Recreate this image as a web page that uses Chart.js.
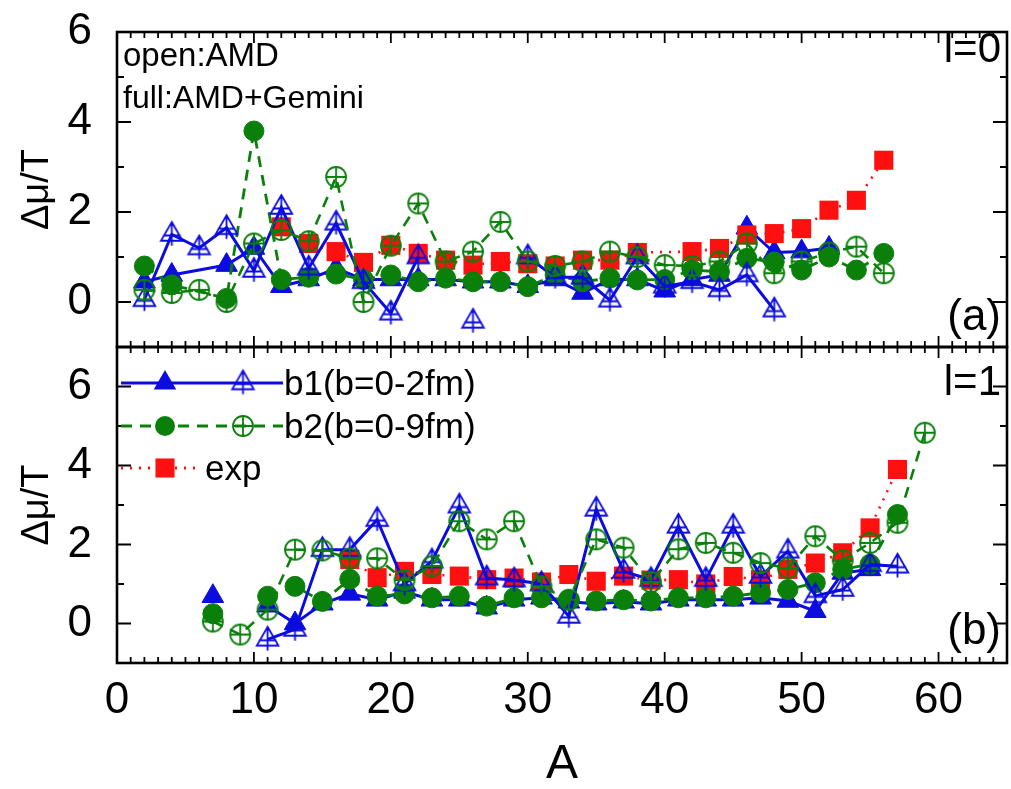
<!DOCTYPE html>
<html>
<head>
<meta charset="utf-8">
<script src="https://cdn.jsdelivr.net/npm/chart.js@4.4.1/dist/chart.umd.min.js"></script>
<style>
  html, body { margin: 0; padding: 0; background: #fff; }
  #wrap { position: relative; width: 1011px; height: 789px; }
  #top { position: absolute; left: 0; top: 0; }
  #bot { position: absolute; left: 0; top: 345px; }
</style>
</head>
<body>
<div id="wrap">
  <canvas id="top" width="1011" height="350"></canvas>
  <canvas id="bot" width="1011" height="444"></canvas>
</div>
<script>
// ---- data, panel (a) l=0 : even A ----
const aTop = [2,4,6,8,10,12,14,16,18,20,22,24,26,28,30,32,34,36,38,40,42,44,46,48,50,52,54,56]
const b1FullTop = [0.45,0.6,null,0.82,1.2,0.35,0.5,0.75,0.5,0.5,0.5,0.5,0.45,0.45,0.35,0.5,0.2,0.5,0.5,0.25,0.5,0.6,1.65,1.1,1.12,1.2,null,null]
const b1OpenTop = [0.05,1.5,1.2,1.65,0.7,2.1,0.75,1.75,0.45,-0.25,1.0,null,-0.43,null,1.0,0.55,0.55,0.04,1.0,0.35,0.45,0.27,0.6,-0.18,null,null,null,null]
const b2FullTop = [0.8,0.38,null,0.08,3.8,0.5,0.55,0.62,0.5,0.6,0.45,0.53,0.45,0.45,0.34,0.6,0.45,0.53,0.49,0.5,0.71,0.67,0.97,0.89,0.71,1.0,0.71,1.08]
const b2OpenTop = [0.27,0.2,0.27,0.0,1.3,1.6,1.35,2.78,0.0,1.25,2.19,0.9,1.12,1.78,0.9,0.8,0.9,1.12,1.0,0.82,0.8,0.9,1.3,0.64,0.9,1.1,1.23,0.64]
const expTop = [null,null,null,null,null,1.67,1.3,1.12,0.88,1.26,1.08,0.93,0.82,0.9,0.85,0.8,0.93,0.93,1.1,null,1.12,1.19,1.49,1.52,1.63,2.04,2.26,3.15]

// ---- data, panel (b) l=1 : odd A ----
const aBot = [7,9,11,13,15,17,19,21,23,25,27,29,31,33,35,37,39,41,43,45,47,49,51,53,55,57,59]
const b1FullBot = [0.69,null,0.45,0.0,0.5,0.75,0.6,0.8,0.6,0.6,0.4,0.6,0.65,0.55,0.5,0.55,0.5,0.6,0.6,0.6,0.65,0.57,0.31,1.28,1.37,null,null]
const b1OpenBot = [null,null,-0.4,-0.15,1.87,1.87,2.63,1.0,1.58,2.97,1.15,1.1,1.0,0.18,2.89,1.32,1.11,2.46,1.11,2.46,1.19,1.83,0.7,0.86,1.49,1.45,null]
const b2FullBot = [0.25,null,0.69,0.94,0.56,1.12,0.69,0.75,0.65,0.69,0.44,0.65,0.65,0.6,0.57,0.6,0.57,0.65,0.65,0.69,0.78,0.86,1.03,1.37,1.5,2.76,null]
const b2OpenBot = [0.05,-0.28,0.35,1.87,1.85,1.65,1.65,1.1,1.45,2.59,2.13,2.59,0.94,0.6,2.13,1.92,1.05,1.88,2.04,1.79,1.53,1.4,2.21,1.6,2.04,2.55,4.83]
const expBot = [null,null,null,null,null,1.62,1.16,1.32,1.24,1.2,1.11,1.15,1.05,1.24,1.07,1.2,1.1,1.11,1.0,1.19,1.11,1.37,1.53,1.79,2.42,3.9,null]

const xTicks = [0,10,20,30,40,50,60]
const yTicks = [0,2,4,6]

const FONT = "'Liberation Sans', Arial, Helvetica, sans-serif"
const BLUE = '#0c0ce0'
const GREEN = '#0a800a'
const RED = '#ff1010'

// open markers with a cross inside
const makeOpenTri = (color, r) => {
  const s = Math.ceil(2 * r + 10)
  const c = document.createElement('canvas')
  c.width = s; c.height = s
  const g = c.getContext('2d')
  const cx = s / 2, cy = s / 2
  g.strokeStyle = color
  g.lineWidth = 1.8
  g.beginPath()
  g.moveTo(cx, cy - r)
  g.lineTo(cx + r * 0.866, cy + r * 0.5)
  g.lineTo(cx - r * 0.866, cy + r * 0.5)
  g.closePath()
  g.moveTo(cx, cy - r); g.lineTo(cx, cy + r * 0.5 + 5)
  g.moveTo(cx - r * 0.7, cy + 1); g.lineTo(cx + r * 0.7, cy + 1)
  g.stroke()
  return c
}
const makeCircPlus = (color, r) => {
  const s = Math.ceil(2 * r + 6)
  const c = document.createElement('canvas')
  c.width = s; c.height = s
  const g = c.getContext('2d')
  const cx = s / 2, cy = s / 2
  g.strokeStyle = color
  g.lineWidth = 1.8
  g.beginPath()
  g.arc(cx, cy, r, 0, Math.PI * 2)
  g.moveTo(cx - r, cy); g.lineTo(cx + r, cy)
  g.moveTo(cx, cy - r); g.lineTo(cx, cy + r)
  g.stroke()
  return c
}
const triOpen = makeOpenTri(BLUE, 12.5)
const circPlus = makeCircPlus(GREEN, 10)

const pts = (xs, ys) => xs.map((x, i) => ({ x: x, y: ys[i] }))

const makeSets = (xs, b1f, b1o, b2f, b2o, ex, gaps) => [
  { data: pts(xs, b1f), borderColor: BLUE, backgroundColor: BLUE, borderWidth: 3,
    pointStyle: 'triangle', pointRadius: 12.5, pointBorderWidth: 1, spanGaps: gaps[0], order: 5 },
  { data: pts(xs, ex), borderColor: RED, backgroundColor: RED, borderWidth: 2.6, borderDash: [2, 7],
    pointStyle: 'rect', pointRadius: 13.5, pointBorderWidth: 0, spanGaps: true, order: 4 },
  { data: pts(xs, b2f), borderColor: GREEN, backgroundColor: GREEN, borderWidth: 2.8, borderDash: [11, 8],
    pointStyle: 'circle', pointRadius: 10, pointBorderWidth: 1, spanGaps: gaps[1], order: 3 },
  { data: pts(xs, b1o), borderColor: BLUE, backgroundColor: BLUE, borderWidth: 3,
    pointStyle: triOpen, pointRadius: 12, spanGaps: false, order: 2 },
  { data: pts(xs, b2o), borderColor: GREEN, backgroundColor: GREEN, borderWidth: 2.6, borderDash: [11, 8],
    pointStyle: circPlus, pointRadius: 10, spanGaps: true, order: 1 }
]

// frame and inward ticks on all four sides
const frameTicks = {
  id: 'frameTicks',
  afterDraw(chart) {
    const { ctx, chartArea: { left, right, top, bottom }, scales: { x, y } } = chart
    ctx.save()
    ctx.strokeStyle = '#000'
    ctx.lineWidth = 1.8
    ctx.beginPath()
    for (let v = Math.ceil(x.min); v <= x.max; v++) {
      const px = x.getPixelForValue(v)
      const len = v % 10 === 0 ? 11 : 6
      ctx.moveTo(px, bottom); ctx.lineTo(px, bottom - len)
      ctx.moveTo(px, top); ctx.lineTo(px, top + len)
    }
    for (let v = Math.ceil(y.min); v <= y.max; v++) {
      const py = y.getPixelForValue(v)
      const len = v % 2 === 0 ? 14 : 7
      ctx.moveTo(left, py); ctx.lineTo(left + len, py)
      ctx.moveTo(right, py); ctx.lineTo(right - len, py)
    }
    ctx.stroke()
    ctx.lineWidth = 2.6
    ctx.strokeRect(left, top, right - left, bottom - top)
    ctx.restore()
  }
}

const noPad = s => { s.paddingTop = 0; s.paddingBottom = 0; s.paddingLeft = 0; s.paddingRight = 0 }

const yAxis = (min, max) => ({
  type: 'linear', min: min, max: max,
  afterBuildTicks: s => { s.ticks = yTicks.map(v => ({ value: v })) },
  afterFit: s => { s.width = 117; noPad(s) },
  grid: { display: false }, border: { display: false },
  ticks: { padding: 17, color: '#000', font: { family: FONT, size: 44 } },
  title: { display: true, text: 'Δμ/T', color: '#000', padding: { top: 19, bottom: 0 },
    font: { family: FONT, size: 38, lineHeight: 1 } }
})

const text = (ctx, s, x, y, size, align) => {
  ctx.font = size + 'px ' + FONT
  ctx.fillStyle = '#000'
  ctx.textAlign = align
  ctx.textBaseline = 'middle'
  ctx.fillText(s, x, y)
}

const labelsTop = {
  id: 'labelsTop',
  afterDraw(chart) {
    const { ctx, chartArea: { left, right, top, bottom } } = chart
    ctx.save()
    text(ctx, 'open:AMD', left + 6, top + 25, 33, 'left')
    text(ctx, 'full:AMD+Gemini', left + 6, top + 67, 32, 'left')
    text(ctx, 'l=0', right - 6, top + 18, 42, 'right')
    text(ctx, '(a)', right - 6, bottom - 29, 44, 'right')
    ctx.restore()
  }
}

const drawFilled = (ctx, style, color, x, y, r) => {
  ctx.fillStyle = color
  ctx.beginPath()
  if (style === 'triangle') {
    ctx.moveTo(x, y - r); ctx.lineTo(x + r * 0.866, y + r * 0.5); ctx.lineTo(x - r * 0.866, y + r * 0.5)
    ctx.closePath()
  } else if (style === 'circle') {
    ctx.arc(x, y, r, 0, Math.PI * 2)
  } else {
    const h = r * Math.SQRT1_2
    ctx.rect(x - h, y - h, 2 * h, 2 * h)
  }
  ctx.fill()
}

const labelsBot = {
  id: 'labelsBot',
  afterDraw(chart) {
    const { ctx, chartArea: { left, right, top, bottom } } = chart
    ctx.save()
    text(ctx, 'l=1', right - 6, top + 36, 42, 'right')
    text(ctx, '(b)', right - 6, bottom - 31, 44, 'right')
    // legend
    const rows = [
      { y: top + 36, color: BLUE, dash: [], end: 283, full: 'triangle', r: 13, open: triOpen, label: 'b1(b=0-2fm)', tx: 284 },
      { y: top + 79, color: GREEN, dash: [11, 8], end: 283, full: 'circle', r: 10, open: circPlus, label: 'b2(b=0-9fm)', tx: 284 },
      { y: top + 121, color: RED, dash: [2, 7], end: 202, full: 'rect', r: 13.5, open: null, label: 'exp', tx: 205 }
    ]
    rows.forEach(row => {
      ctx.strokeStyle = row.color
      ctx.lineWidth = 2.8
      ctx.setLineDash(row.dash)
      ctx.beginPath()
      ctx.moveTo(left + 4, row.y); ctx.lineTo(row.end, row.y)
      ctx.stroke()
      ctx.setLineDash([])
      drawFilled(ctx, row.full, row.color, left + 48, row.y, row.r)
      if (row.open) ctx.drawImage(row.open, left + 126 - row.open.width / 2, row.y - row.open.height / 2)
      text(ctx, row.label, row.tx, row.y + 2, 35, 'left')
    })
    ctx.restore()
  }
}

const baseOptions = {
  responsive: false,
  animation: false,
  events: [],
  plugins: { legend: { display: false }, tooltip: { enabled: false } }
}

new Chart(document.getElementById('top'), {
  type: 'line',
  data: { datasets: makeSets(aTop, b1FullTop, b1OpenTop, b2FullTop, b2OpenTop, expTop, [true, true]) },
  options: Object.assign({}, baseOptions, {
    layout: { autoPadding: false, padding: { left: 0, right: 4, top: 32, bottom: 3 } },
    scales: {
      x: { type: 'linear', min: 0, max: 65, display: false },
      y: yAxis(-1, 6)
    }
  }),
  plugins: [frameTicks, labelsTop]
})

new Chart(document.getElementById('bot'), {
  type: 'line',
  data: { datasets: makeSets(aBot, b1FullBot, b1OpenBot, b2FullBot, b2OpenBot, expBot, [false, false]) },
  options: Object.assign({}, baseOptions, {
    layout: { autoPadding: false, padding: { left: 0, right: 4, top: 2, bottom: 0 } },
    scales: {
      x: {
        type: 'linear', min: 0, max: 65,
        afterBuildTicks: s => { s.ticks = xTicks.map(v => ({ value: v })) },
        afterFit: s => { s.height = 126; noPad(s) },
        grid: { display: false }, border: { display: false },
        ticks: { padding: 3, maxRotation: 0, color: '#000', font: { family: FONT, size: 44 } },
        title: { display: true, text: 'A', color: '#000', padding: { top: 0, bottom: 0 },
          font: { family: FONT, size: 48, lineHeight: 1 } }
      },
      y: yAxis(-1, 7)
    }
  }),
  plugins: [frameTicks, labelsBot]
})
</script>
</body>
</html>
